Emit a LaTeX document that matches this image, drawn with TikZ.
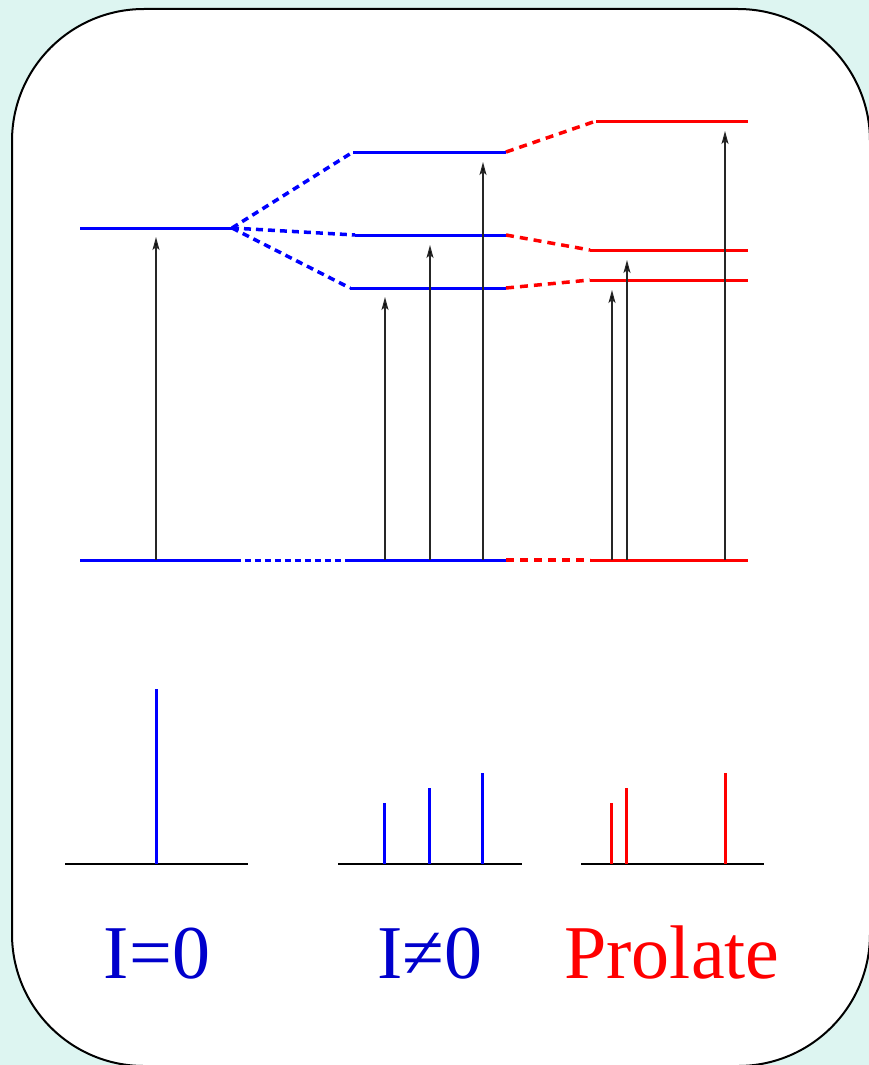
\documentclass[tikz,border=0pt]{standalone}
\usepackage{fontspec}
\setmainfont{Liberation Serif}
\newfontfamily\labfont{Liberation Serif}
\usetikzlibrary{arrows.meta}
\definecolor{bgc}{RGB}{221,245,241}
\definecolor{txtblue}{RGB}{0,0,204}
\definecolor{lvblue}{RGB}{0,0,255}
\definecolor{lvred}{RGB}{255,0,0}
\begin{document}
\begin{tikzpicture}[x=1pt,y=-1pt,
  lvb/.style={lvblue,line width=3pt},
  lvr/.style={lvred,line width=3pt},
  dshb/.style={lvblue,line width=3.5pt,dash pattern=on 7pt off 5pt},
  dshg/.style={lvblue,line width=3pt,dash pattern=on 6pt off 4pt},
  dshr/.style={lvred,line width=3.5pt,dash pattern=on 8pt off 6pt},
  trans/.style={black!85,line width=1.3pt,-{Stealth[length=13pt,width=7pt,inset=3pt,fill=black]}},
  specb/.style={lvblue,line width=3pt},
  specr/.style={lvred,line width=3pt},
  base/.style={black,line width=1.6pt},
  lab/.style={font=\labfont\fontsize{76}{80}\selectfont,anchor=base,inner sep=0pt}]
\useasboundingbox (0,0) rectangle (869,1065);
\fill[bgc] (0,0) rectangle (869,1065);
\draw[line width=2pt,fill=white,rounded corners=132pt] (12,9) rectangle (870,1066);

% ---- coordinates of levels
\coordinate (z1a) at (80,228);  \coordinate (z1b) at (232,228);
\coordinate (z0a) at (80,560);  \coordinate (z0b) at (235,560);
\coordinate (n3a) at (353,152); \coordinate (n3b) at (506,152);
\coordinate (n2a) at (355,235); \coordinate (n2b) at (506,235);
\coordinate (n1a) at (350,288); \coordinate (n1b) at (506,288);
\coordinate (n0a) at (350,560); \coordinate (n0b) at (506,560);
\coordinate (p3a) at (596,121); \coordinate (p3b) at (748,121);
\coordinate (p2a) at (590,250); \coordinate (p2b) at (748,250);
\coordinate (p1a) at (590,280); \coordinate (p1b) at (748,280);
\coordinate (p0a) at (590,560); \coordinate (p0b) at (748,560);

% ---- dashed correlation lines
\draw[dshb] (z1b) -- (n3a);
\draw[dshb] (z1b) -- (n2a);
\draw[dshb] (z1b) -- (n1a);
\draw[dshg] (z0b) -- (n0a);
\draw[dshr] (n3b) -- (p3a);
\draw[dshr] (n2b) -- (p2a);
\draw[dshr] (n1b) -- (p1a);
\draw[dshr] (n0b) -- (p0a);

% ---- levels
\draw[lvb] (z1a) -- (z1b);
\draw[lvb] (z0a) -- (z0b);
\draw[lvb] (n3a) -- (n3b);
\draw[lvb] (n2a) -- (n2b);
\draw[lvb] (n1a) -- (n1b);
\draw[lvb] (n0a) -- (n0b);
\draw[lvr] (p3a) -- (p3b);
\draw[lvr] (p2a) -- (p2b);
\draw[lvr] (p1a) -- (p1b);
\draw[lvr] (p0a) -- (p0b);

% ---- transitions
\coordinate (t1s) at (156,560); \coordinate (t1e) at (156,237);
\coordinate (t2s) at (385,560); \coordinate (t2e) at (385,297);
\coordinate (t3s) at (430,560); \coordinate (t3e) at (430,245);
\coordinate (t4s) at (483,560); \coordinate (t4e) at (483,162);
\coordinate (t5s) at (612,560); \coordinate (t5e) at (612,290);
\coordinate (t6s) at (627,560); \coordinate (t6e) at (627,260);
\coordinate (t7s) at (725,560); \coordinate (t7e) at (725,131);
\foreach \i in {1,...,7} \draw[trans] (t\i s) -- (t\i e);

% ---- spectra
\coordinate (b1a) at (65,864);  \coordinate (b1b) at (248,864);
\coordinate (b2a) at (338,864); \coordinate (b2b) at (522,864);
\coordinate (b3a) at (581,864); \coordinate (b3b) at (764,864);
\draw[base] (b1a) -- (b1b);
\draw[base] (b2a) -- (b2b);
\draw[base] (b3a) -- (b3b);
\coordinate (s1) at (156,689);
\coordinate (s2) at (384,803);
\coordinate (s3) at (429,788);
\coordinate (s4) at (482,773);
\coordinate (s5) at (611,803);
\coordinate (s6) at (626,788);
\coordinate (s7) at (725,773);
\draw[specb] (s1) -- (s1 |- b1a);
\draw[specb] (s2) -- (s2 |- b2a);
\draw[specb] (s3) -- (s3 |- b2a);
\draw[specb] (s4) -- (s4 |- b2a);
\draw[specr] (s5) -- (s5 |- b3a);
\draw[specr] (s6) -- (s6 |- b3a);
\draw[specr] (s7) -- (s7 |- b3a);

% ---- labels
\node[lab,txtblue] (l1) at (157,978) {I=0};
\node[lab,txtblue] (l2) at (430,978) {I≠0};
\node[lab,lvred] (l3) at (672,978) {Prolate};
\end{tikzpicture}
\end{document}
